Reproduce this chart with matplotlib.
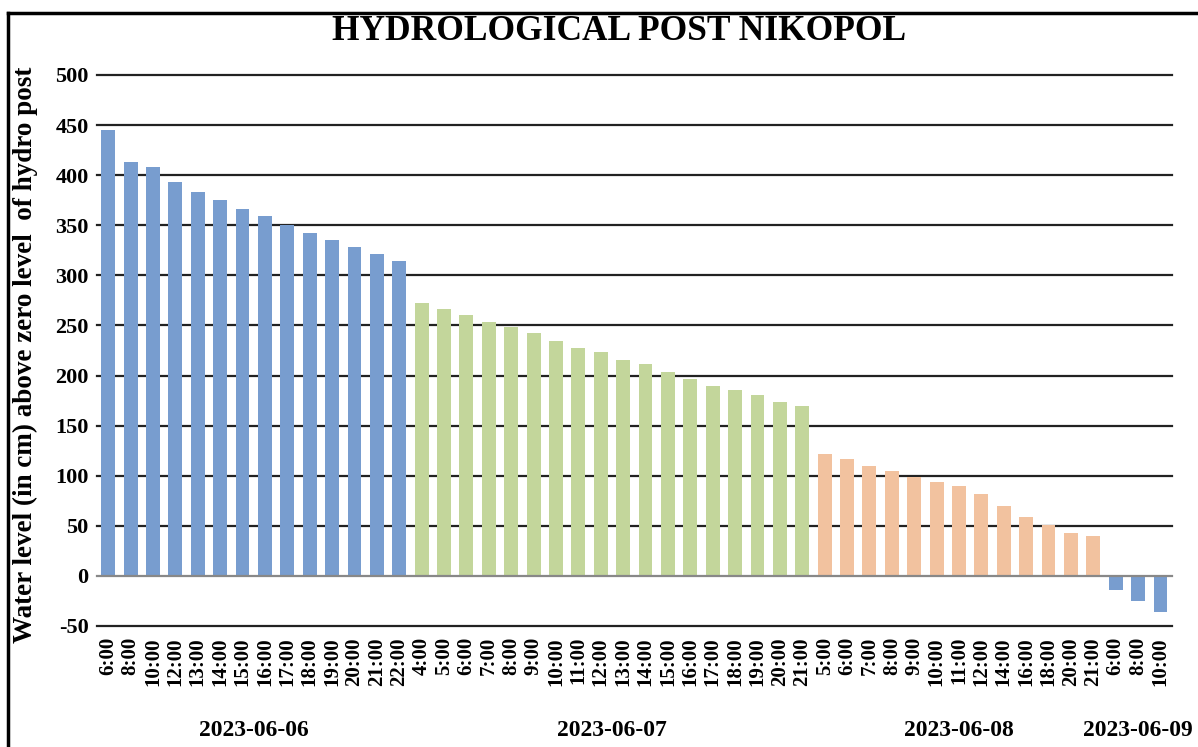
import matplotlib.pyplot as plt
import numpy as np

# water level readings, grouped by date
dates = ["2023-06-06", "2023-06-07", "2023-06-08", "2023-06-09"]

hours_0606 = ["6:00", "8:00", "10:00", "12:00", "13:00", "14:00", "15:00",
              "16:00", "17:00", "18:00", "19:00", "20:00", "21:00", "22:00"]
level_0606 = [445, 413, 408, 393, 383, 375, 366, 359, 350, 342, 335, 328, 321, 314]

hours_0607 = ["4:00", "5:00", "6:00", "7:00", "8:00", "9:00", "10:00", "11:00",
              "12:00", "13:00", "14:00", "15:00", "16:00", "17:00", "18:00",
              "19:00", "20:00", "21:00"]
level_0607 = [272, 266, 260, 253, 248, 242, 234, 227, 223, 216, 212, 204,
              197, 190, 186, 181, 174, 170]

hours_0608 = ["5:00", "6:00", "7:00", "8:00", "9:00", "10:00", "11:00", "12:00",
              "14:00", "16:00", "18:00", "20:00", "21:00"]
level_0608 = [122, 117, 110, 105, 99, 94, 90, 82, 70, 59, 51, 43, 40]

hours_0609 = ["6:00", "8:00", "10:00"]
level_0609 = [-14, -25, -36]

group_colors = ["#789dcf", "#c3d69b", "#f2c29f", "#789dcf"]

hours = [hours_0606, hours_0607, hours_0608, hours_0609]
levels = [level_0606, level_0607, level_0608, level_0609]

serif = ["Liberation Serif", "DejaVu Serif"]
plt.rcParams['font.family'] = serif
plt.rcParams['font.weight'] = 'bold'
plt.rcParams['axes.unicode_minus'] = False

fig = plt.figure(figsize=(11.98, 7.47), dpi=100)
ax = fig.add_axes([0.081, 0.162, 0.897, 0.7376])

labels = []
start = 0
centers = []
for hrs, vals, col in zip(hours, levels, group_colors):
    x = np.arange(start, start + len(vals))
    ax.bar(x, vals, width=0.62, color=col, zorder=3)
    labels += hrs
    centers.append((x[0] + x[-1]) / 2)
    start += len(vals)

ax.set_xlim(-0.5, start - 0.5)
ax.set_ylim(-50, 500)
ax.set_yticks(np.arange(-50, 501, 50))
ax.set_xticks(np.arange(start))
ax.set_xticklabels(labels, rotation=90, fontsize=15, fontweight='bold')
ax.tick_params(axis='x', length=0, pad=8)
ax.tick_params(axis='y', length=0, pad=6, labelsize=16)

for v in np.arange(-50, 501, 50):
    ax.axhline(v, color="#888888" if v == 0 else "#222222",
               lw=1.6, zorder=2 if v else 4, clip_on=False)

for s in ax.spines.values():
    s.set_visible(False)

for c, d in zip(centers, dates):
    ax.text(c, -0.19, d, transform=ax.get_xaxis_transform(),
            ha='center', va='center', fontsize=17, fontweight='bold')

fig.text(0.517, 0.958, "HYDROLOGICAL POST NIKOPOL", ha='center', va='center',
         fontsize=25.5, fontweight='bold')
fig.text(0.021, 0.525, "Water level (in cm) above zero level  of hydro post",
         rotation=90, ha='center', va='center', fontsize=19.5, fontweight='bold')

# outer frame (top and left edges visible)
fig.add_artist(plt.Line2D([0.007, 1.0], [0.983, 0.983], transform=fig.transFigure,
                          color='black', lw=2.5))
fig.add_artist(plt.Line2D([0.007, 0.007], [0.0, 0.983], transform=fig.transFigure,
                          color='black', lw=2.5))

fig.savefig("out.png", dpi=100)
